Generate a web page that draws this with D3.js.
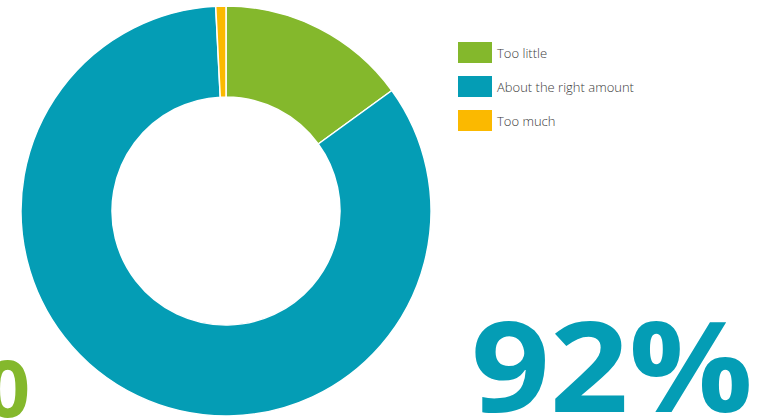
<!DOCTYPE html>
<html>
<head>
<meta charset="utf-8">
<script src="https://cdn.jsdelivr.net/npm/d3@7"></script>
<style>
  html, body { margin: 0; padding: 0; background: #fff; }
  svg { display: block; }
</style>
</head>
<body>
<svg id="chart" width="767" height="420"></svg>
<script>
// Survey answers: share of respondents per answer
const categories = ["Too little", "About the right amount", "Too much"];
const values = [15.0, 84.2, 0.8];
const colors = ["#84b82c", "#049db5", "#fbb900"];

// Big headline figures
const headline = "92%";
const sideFigure = "0";

const W = 767, H = 420;
const svg = d3.select("#chart");

const cx = 226, cy = 211, outerR = 205, innerR = 114;

const color = d3.scaleOrdinal().domain(categories).range(colors);

const pie = d3.pie().sort(null).value(d => d.value);
const arc = d3.arc().innerRadius(innerR).outerRadius(outerR);

const data = categories.map((c, i) => ({ category: c, value: values[i] }));

const g = svg.append("g").attr("transform", `translate(${cx},${cy})`);
g.selectAll("path")
  .data(pie(data))
  .join("path")
  .attr("d", arc)
  .attr("fill", d => color(d.data.category))
  .attr("stroke", "#fff")
  .attr("stroke-width", 1.5)
  .attr("stroke-linejoin", "round");

// Legend
const legend = svg.append("g").attr("transform", "translate(458,42)");
const item = legend.selectAll("g")
  .data(categories)
  .join("g")
  .attr("transform", (d, i) => `translate(0,${i * 34})`);
item.append("rect")
  .attr("width", 34)
  .attr("height", 21)
  .attr("fill", d => color(d));
item.append("text")
  .attr("x", 39)
  .attr("y", 15.5)
  .attr("font-family", "'Open Sans', sans-serif")
  .attr("font-weight", 300)
  .attr("font-size", 13)
  .attr("fill", "#3c3c3c")
  .text(d => d);

// Large figures
svg.append("text")
  .attr("x", 471)
  .attr("y", 412)
  .attr("font-family", "'Open Sans', sans-serif")
  .attr("font-weight", 700)
  .attr("font-size", 126)
  .attr("textLength", 282)
  .attr("lengthAdjust", "spacingAndGlyphs")
  .attr("fill", colors[1])
  .text(headline);

svg.append("text")
  .attr("x", 30)
  .attr("y", 417)
  .attr("text-anchor", "end")
  .attr("font-family", "'Open Sans', sans-serif")
  .attr("font-weight", 700)
  .attr("font-size", 78)
  .attr("fill", colors[0])
  .text(sideFigure);
</script>
</body>
</html>
